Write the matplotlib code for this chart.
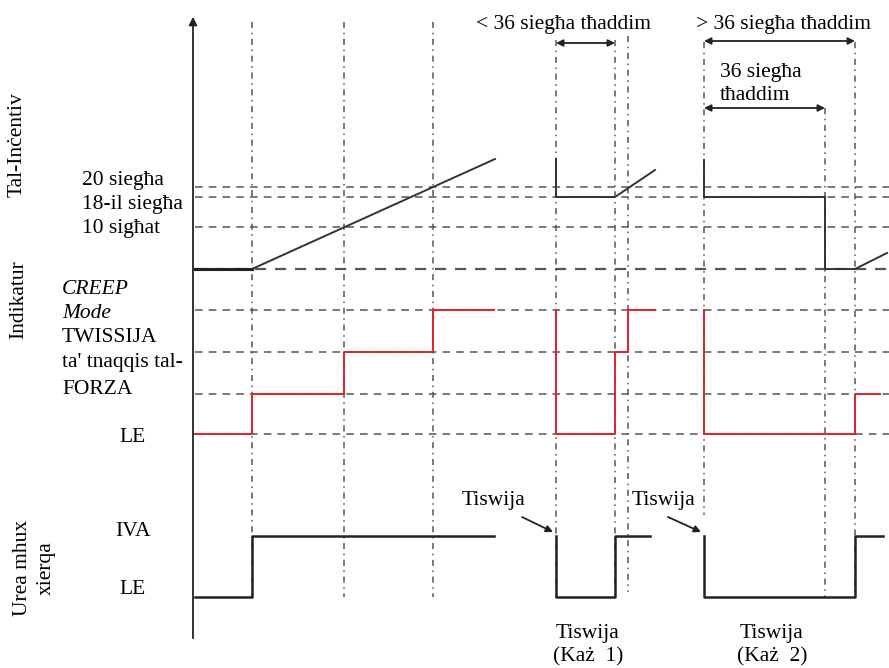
import numpy as np
import matplotlib
matplotlib.use('Agg')
from matplotlib import pyplot as plt

plt.rcParams['font.family'] = ['Liberation Serif', 'DejaVu Serif']

# schematic time axis (events) and signal levels, in drawing units
events_x = [252, 344, 433, 556, 615, 628, 704, 825, 855]
events_top = [22, 22, 22, 40, 40, 36, 42, 108, 42]
events_bot = [597, 597, 597, 597, 597, 592, 515, 597, 597]

inc_levels = [187, 197, 227, 269]          # 20 siegħa, 18-il siegħa, 10 sigħat, base
ind_levels = [310, 352, 394, 434]          # CREEP, TWISSIJA, FORZA, LE
urea_levels = [536, 597]                   # IVA, LE

inc_segs = [
    ([195, 252, 495], [269, 269, 159]),
    ([556, 556, 615, 655], [159, 197, 197, 170]),
    ([704, 704, 825, 825, 855, 887], [160, 197, 197, 269, 269, 253]),
]
ind_segs = [
    ([195, 252, 252, 344, 344, 433, 433, 494], [434, 434, 394, 394, 352, 352, 310, 310]),
    ([556, 556, 615, 615, 628, 628, 655], [310, 434, 434, 352, 352, 310, 310]),
    ([704, 704, 855, 855, 880], [310, 434, 434, 394, 394]),
]
urea_segs = [
    ([195, 252, 252, 494], [597, 597, 536, 536]),
    ([556, 556, 615, 615, 650], [536, 597, 597, 536, 536]),
    ([704, 704, 855, 855, 883], [536, 597, 597, 536, 536]),
]

fig = plt.figure(figsize=(8.89, 6.68), dpi=100)
ax = fig.add_axes([0, 0, 1, 1])
ax.set_xlim(0, 889)
ax.set_ylim(668, 0)
ax.axis('off')

gc = '#555555'
# horizontal dashed guide lines
for y in inc_levels + ind_levels:
    lw = 1.6 if y == 269 else 1.1
    ax.plot([195, 889], [y, y], ls=(0, (5, 4)), color=gc, lw=lw, zorder=1)
# vertical dash-dot guides
for x, t, b in zip(events_x, events_top, events_bot):
    ax.plot([x, x], [t, b], ls=(0, (4, 3, 1, 3)), color=gc, lw=1.1, zorder=1)

# y axis with arrow
ax.annotate('', xy=(193, 14), xytext=(193, 641),
            arrowprops=dict(arrowstyle='-|>', color='#222222', lw=1.3, mutation_scale=12))

for xs, ys in inc_segs:
    ax.plot(xs, ys, color='#333333', lw=1.4, zorder=3)
ax.plot([195, 252], [269, 269], color='#222222', lw=2.2, zorder=3)
for xs, ys in ind_segs:
    ax.plot(xs, ys, color='#e8202a', lw=1.4, zorder=3)
for xs, ys in urea_segs:
    ax.plot(xs, ys, color='#222222', lw=1.8, zorder=3)

fs = 15.5
# left level labels
ax.text(82, 180, '20 siegħa', fontsize=fs, va='center', ha='left')
ax.text(82, 204, '18-il siegħa', fontsize=fs, va='center', ha='left')
ax.text(82, 228, '10 sigħat', fontsize=fs, va='center', ha='left')
ax.text(62, 290, 'CREEP', fontsize=fs, va='center', ha='left', style='italic')
ax.text(62, 314, 'Mode', fontsize=fs, va='center', ha='left', style='italic')
ax.text(62, 338, 'TWISSIJA', fontsize=fs, va='center', ha='left')
ax.text(62, 362, "ta' tnaqqis tal-", fontsize=fs, va='center', ha='left')
ax.text(62, 389, 'FORZA', fontsize=fs, va='center', ha='left')
ax.text(133, 437, 'LE', fontsize=fs, va='center', ha='center')
ax.text(133, 531, 'IVA', fontsize=fs, va='center', ha='center')
ax.text(133, 590, 'LE', fontsize=fs, va='center', ha='center')

# rotated group labels
ax.text(17, 145, 'Tal-Inċentiv', fontsize=fs, rotation=90, va='center', ha='center')
ax.text(19, 300, 'Indikatur', fontsize=fs, rotation=90, va='center', ha='center')
ax.text(34, 568, 'Urea mhux\nxierqa', fontsize=fs, rotation=90, va='center', ha='center',
        linespacing=1.35)

# top duration annotations
ax.text(563, 24, '< 36 siegħa tħaddim', fontsize=fs, va='center', ha='center')
ax.text(784, 24, '> 36 siegħa tħaddim', fontsize=fs, va='center', ha='center')
ax.text(720, 84, '36 siegħa\ntħaddim', fontsize=fs, va='center', ha='left', linespacing=1.35)
arr = dict(arrowstyle='<|-|>', color='#222222', lw=1.3, mutation_scale=10, shrinkA=0, shrinkB=0)
ax.annotate('', xy=(556, 43), xytext=(615, 43), arrowprops=arr)
ax.annotate('', xy=(704, 41), xytext=(855, 41), arrowprops=arr)
ax.annotate('', xy=(704, 108), xytext=(825, 108), arrowprops=arr)

# Tiswija pointers
ptr = dict(arrowstyle='-|>', color='#222222', lw=1.3, mutation_scale=10, shrinkA=0, shrinkB=0)
ax.text(493, 500, 'Tiswija', fontsize=fs, va='center', ha='center')
ax.annotate('', xy=(553, 532), xytext=(522, 517), arrowprops=ptr)
ax.text(664, 500, 'Tiswija', fontsize=fs, va='center', ha='center')
ax.annotate('', xy=(701, 532), xytext=(668, 517), arrowprops=ptr)

ax.text(588, 645, 'Tiswija\n(Każ  1)', fontsize=fs, va='center', ha='center', linespacing=1.3)
ax.text(772, 645, 'Tiswija\n(Każ  2)', fontsize=fs, va='center', ha='center', linespacing=1.3)

fig.savefig('out.png', dpi=100)
